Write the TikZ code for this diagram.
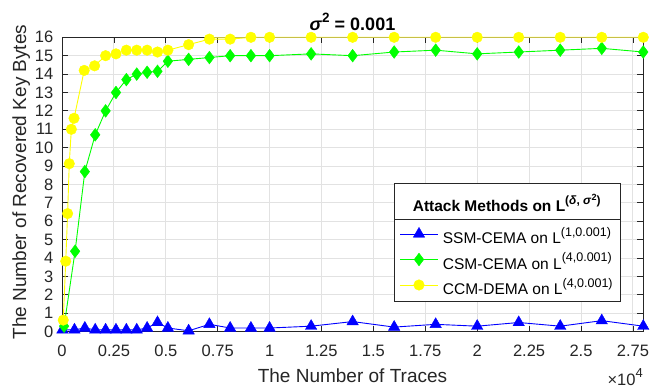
\documentclass[tikz,border=0pt]{standalone}
\usepackage{fontspec}
\setmainfont{Liberation Sans}
\usetikzlibrary{plotmarks}
\definecolor{axcol}{rgb}{0.15,0.15,0.15}
\definecolor{gridcol}{rgb}{0.885,0.885,0.885}
\definecolor{mblue}{rgb}{0,0,1}
\definecolor{mgreen}{rgb}{0,1,0}
\definecolor{myellow}{rgb}{1,1,0}
\definecolor{olivetop}{RGB}{200,192,70}
\newcommand{\mysup}[3]{\raisebox{#1}{\fontsize{#2}{#2}\selectfont #3}}
\begin{document}
\begin{tikzpicture}[x=1pt,y=1pt,
  ticklab/.style={font=\fontsize{16.5}{19}\selectfont, text=axcol, inner sep=0pt},
  axlab/.style={font=\fontsize{19}{22}\selectfont, text=axcol, inner sep=0pt},
  legtext/.style={font=\fontsize{15.5}{18}\selectfont, text=black, inner sep=0pt, anchor=base west},
  bluemk/.style={only marks, mark=triangle*, mark size=6.6pt, mark options={fill=mblue, draw=mblue, line width=0.4pt}},
  greenmk/.style={only marks, mark=diamond*, mark size=6.4pt, mark options={fill=mgreen, draw=mgreen, line width=0.4pt}},
  yellowmk/.style={only marks, mark=*, mark size=5.3pt, mark options={fill=myellow, draw=myellow, line width=0.4pt}},
  dataline/.style={line width=0.9pt, line join=round}
]
\useasboundingbox (0,0) rectangle (654,388);
\fill[white] (0,0) rectangle (654,388);

\begin{scope}[shift={(62,56.3)}, x=207.6pt, y=18.4pt]
  % grid
  \foreach \v in {0.25,0.5,0.75,1,1.25,1.5,1.75,2,2.25,2.5,2.75}
    \draw[gridcol, line width=0.9pt] (\v,0) -- (\v,16);
  \foreach \k in {1,...,15}
    \draw[gridcol, line width=0.9pt] (0,\k) -- (2.8,\k);
  % box
  \draw[axcol, line width=0.8pt] (0,0) rectangle (2.8,16);
  % ticks
  \foreach \v in {0,0.25,0.5,0.75,1,1.25,1.5,1.75,2,2.25,2.5,2.75} {
    \draw[axcol, line width=0.8pt] (\v,0) -- ++(0,6pt);
    \draw[axcol, line width=0.8pt] (\v,16) -- ++(0,-6pt);
  }
  \foreach \k in {0,...,16} {
    \draw[axcol, line width=0.8pt] (0,\k) -- ++(6pt,0);
    \draw[axcol, line width=0.8pt] (2.8,\k) -- ++(-6pt,0);
  }
  % tick labels
  \foreach \v/\t [count=\i] in {0/0,0.25/0.25,0.5/0.5,0.75/0.75,1/1,1.25/1.25,1.5/1.5,1.75/1.75,2/2,2.25/2.25,2.5/2.5,2.75/2.75}
    \node[ticklab, anchor=base] (xl\i) at ([yshift=-25.3pt]\v,0) {\t};
  \foreach \k in {0,...,16}
    \node[ticklab, anchor=east] (yl\k) at ([xshift=-8.5pt]0,\k) {\k};

  % SSM-CEMA (blue)
  \draw[mblue, dataline] plot coordinates {(0.002,0.1) (0.06,0.1) (0.11,0.2) (0.16,0.1) (0.21,0.1) (0.26,0.1) (0.31,0.1) (0.36,0.1) (0.41,0.2) (0.46,0.5) (0.51,0.2) (0.61,0.05) (0.71,0.4) (0.81,0.2) (0.91,0.2) (1.0,0.2) (1.2,0.3) (1.4,0.55) (1.6,0.25) (1.8,0.4) (2.0,0.3) (2.2,0.5) (2.4,0.3) (2.6,0.6) (2.8,0.3)};
  \draw plot[bluemk] coordinates {(0.002,0.1) (0.06,0.1) (0.11,0.2) (0.16,0.1) (0.21,0.1) (0.26,0.1) (0.31,0.1) (0.36,0.1) (0.41,0.2) (0.46,0.5) (0.51,0.2) (0.61,0.05) (0.71,0.4) (0.81,0.2) (0.91,0.2) (1.0,0.2) (1.2,0.3) (1.4,0.55) (1.6,0.25) (1.8,0.4) (2.0,0.3) (2.2,0.5) (2.4,0.3) (2.6,0.6) (2.8,0.3)};

  % CSM-CEMA (green)
  \draw[mgreen, dataline] plot coordinates {(0.01,0.3) (0.063,4.37) (0.11,8.7) (0.16,10.7) (0.21,12) (0.26,13) (0.31,13.7) (0.36,14) (0.41,14.1) (0.46,14.15) (0.51,14.7) (0.61,14.8) (0.71,14.9) (0.81,15) (0.91,15) (1.0,15) (1.2,15.1) (1.4,15) (1.6,15.2) (1.8,15.3) (2.0,15.1) (2.2,15.2) (2.4,15.3) (2.6,15.4) (2.8,15.2)};
  \draw plot[greenmk] coordinates {(0.01,0.3) (0.063,4.37) (0.11,8.7) (0.16,10.7) (0.21,12) (0.26,13) (0.31,13.7) (0.36,14) (0.41,14.1) (0.46,14.15) (0.51,14.7) (0.61,14.8) (0.71,14.9) (0.81,15) (0.91,15) (1.0,15) (1.2,15.1) (1.4,15) (1.6,15.2) (1.8,15.3) (2.0,15.1) (2.2,15.2) (2.4,15.3) (2.6,15.4) (2.8,15.2)};

  % CCM-DEMA (yellow)
  \draw[myellow, dataline] plot coordinates {(0.006,0.63) (0.018,3.83) (0.027,6.42) (0.035,9.13) (0.045,11.0) (0.058,11.6) (0.107,14.2) (0.157,14.45) (0.21,15) (0.26,15.1) (0.31,15.3) (0.36,15.3) (0.41,15.3) (0.46,15.2) (0.51,15.3) (0.61,15.6) (0.71,15.9) (0.81,15.9) (0.91,16) (1.0,16) (1.2,16) (1.4,16) (1.6,16) (1.8,16) (2.0,16) (2.2,16) (2.4,16) (2.6,16) (2.8,16)};
  \draw[olivetop, line width=1.1pt] (0.72,16) -- (2.8,16);
  \draw plot[yellowmk] coordinates {(0.006,0.63) (0.018,3.83) (0.027,6.42) (0.035,9.13) (0.045,11.0) (0.058,11.6) (0.107,14.2) (0.157,14.45) (0.21,15) (0.26,15.1) (0.31,15.3) (0.36,15.3) (0.41,15.3) (0.46,15.2) (0.51,15.3) (0.61,15.6) (0.71,15.9) (0.81,15.9) (0.91,16) (1.0,16) (1.2,16) (1.4,16) (1.6,16) (1.8,16) (2.0,16) (2.2,16) (2.4,16) (2.6,16) (2.8,16)};
\end{scope}

% title
\node[font=\bfseries\fontsize{18}{21}\selectfont, anchor=base, inner sep=0pt] (title) at (352.5,357.3)
  {\textit{σ}\mysup{8.5pt}{13.5}{2} = 0.001};

% axis labels
\node[axlab, anchor=base] (xlab) at (352.5,5.7) {The Number of Traces};
\node[axlab, anchor=base, rotate=90] (ylab) at (26,206) {The Number of Recovered Key Bytes};
\node[ticklab, anchor=base east] (mult) at (643,2.5) {×10\mysup{7.5pt}{13}{4}};

% legend
\draw[axcol, fill=white, line width=0.7pt] (394,87) rectangle (620.7,204.7);
\draw[axcol, line width=0.7pt] (394,169) -- (620.7,169);
\node[font=\bfseries\fontsize{15.5}{18}\selectfont, anchor=base, inner sep=0pt] (legtitle) at (506.7,176.3)
  {Attack Methods on L\mysup{7pt}{12}{(\textit{δ}, \textit{σ}\mysup{4pt}{9}{2})}};

\coordinate (b1) at (400,154);
\coordinate (b2) at (438.3,154);
\draw[mblue, line width=0.9pt] (b1) -- (b2);
\draw plot[bluemk] coordinates {(419,154)};
\node[legtext] (e1) at (442.7,144.3) {SSM-CEMA on L\mysup{7.3pt}{12.5}{(1,0.001)}};

\coordinate (g1) at (400,128.5);
\coordinate (g2) at (438.3,128.5);
\draw[mgreen, line width=0.9pt] (g1) -- (g2);
\draw plot[greenmk] coordinates {(419,128.5)};
\node[legtext] (e2) at (442.7,118.8) {CSM-CEMA on L\mysup{7.3pt}{12.5}{(4,0.001)}};

\coordinate (y1) at (400,103);
\coordinate (y2) at (438.3,103);
\draw[myellow, line width=0.9pt] (y1) -- (y2);
\draw plot[yellowmk] coordinates {(419,103)};
\node[legtext] (e3) at (442.7,93.3) {CCM-DEMA on L\mysup{7.3pt}{12.5}{(4,0.001)}};
\end{tikzpicture}
\end{document}
